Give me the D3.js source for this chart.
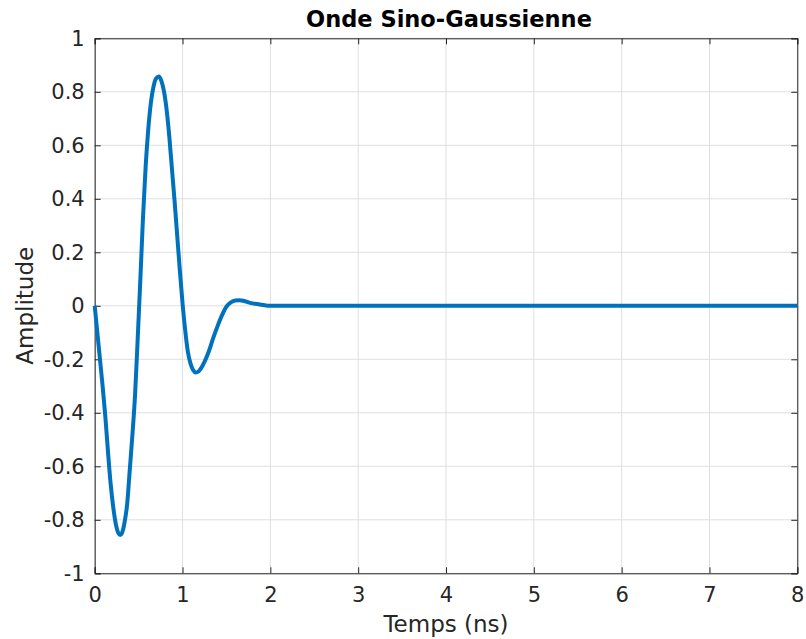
<!DOCTYPE html>
<html>
<head>
<meta charset="utf-8">
<script src="https://cdn.jsdelivr.net/npm/d3@7"></script>
<style>
  html, body { margin: 0; padding: 0; background: #fff; }
  svg { display: block; font-family: "DejaVu Sans", sans-serif; }
</style>
</head>
<body>
<svg id="chart" width="806" height="639"></svg>
<script>
// Time samples (ns) and amplitude of the sine-Gaussian pulse
const timeNs = [
  0, 0.03, 0.06, 0.09, 0.12, 0.15, 0.18, 0.21, 0.24, 0.27, 0.29, 0.31, 0.34, 0.37,
  0.40, 0.43, 0.46, 0.49, 0.52, 0.55, 0.58, 0.61, 0.64, 0.67, 0.70, 0.73, 0.76, 0.79,
  0.82, 0.85, 0.88, 0.91, 0.94, 0.97, 1.00, 1.03, 1.06, 1.09, 1.12, 1.15, 1.18, 1.21,
  1.25, 1.30, 1.35, 1.40, 1.45, 1.50, 1.55, 1.60, 1.65, 1.70, 1.75, 1.80, 1.85, 1.90,
  1.95, 2.00, 3.00, 4.00, 5.00, 6.00, 7.00, 8.00
];
const amplitude = [
  0, -0.10, -0.20, -0.30, -0.41, -0.54, -0.66, -0.75, -0.815, -0.85, -0.857, -0.85, -0.81, -0.74,
  -0.61, -0.48, -0.33, -0.12, 0.10, 0.33, 0.52, 0.66, 0.76, 0.82, 0.85, 0.857, 0.84, 0.80,
  0.73, 0.63, 0.51, 0.39, 0.26, 0.13, 0.01, -0.09, -0.17, -0.215, -0.24, -0.249, -0.246, -0.234,
  -0.21, -0.17, -0.12, -0.075, -0.035, -0.003, 0.013, 0.020, 0.021, 0.018, 0.013, 0.009, 0.007, 0.004,
  0.001, 0, 0, 0, 0, 0, 0, 0
];
const xTicks = [0, 1, 2, 3, 4, 5, 6, 7, 8];
const yTicks = [-1, -0.8, -0.6, -0.4, -0.2, 0, 0.2, 0.4, 0.6, 0.8, 1];
const titleText = "Onde Sino-Gaussienne";
const xLabelText = "Temps (ns)";
const yLabelText = "Amplitude";

const svg = d3.select("#chart");
const plot = { left: 94.7, right: 797.3, top: 38.3, bottom: 573.3 };
const axisColor = "#262626";
const gridColor = "#dfdfdf";
const tickLen = 6;

const x = d3.scaleLinear().domain([0, 8]).range([plot.left, plot.right]);
const y = d3.scaleLinear().domain([-1, 1]).range([plot.bottom, plot.top]);

// grid
const grid = svg.append("g");
grid.selectAll("line.gx").data(xTicks).join("line")
  .attr("x1", d => x(d)).attr("x2", d => x(d))
  .attr("y1", plot.top).attr("y2", plot.bottom)
  .attr("stroke", gridColor).attr("stroke-width", 1);
grid.selectAll("line.gy").data(yTicks).join("line")
  .attr("y1", d => y(d)).attr("y2", d => y(d))
  .attr("x1", plot.left).attr("x2", plot.right)
  .attr("stroke", gridColor).attr("stroke-width", 1);

// axes: bottom/left with labels, top/right ticks only (ticks point inward)
const fmt = d => (d < 0 ? "-" : "") + d3.format("~g")(Math.abs(d));
const xAxis = d3.axisBottom(x).tickValues(xTicks).tickSize(-tickLen).tickPadding(14).tickFormat(fmt);
const yAxis = d3.axisLeft(y).tickValues(yTicks).tickSize(-tickLen).tickPadding(10).tickFormat(fmt);
const xAxisTop = d3.axisTop(x).tickValues(xTicks).tickSize(-tickLen).tickFormat("");
const yAxisRight = d3.axisRight(y).tickValues(yTicks).tickSize(-tickLen).tickFormat("");

function styleAxis(g) {
  g.selectAll("path.domain").attr("stroke", axisColor).attr("stroke-width", 1);
  g.selectAll(".tick line").attr("stroke", axisColor).attr("stroke-width", 1);
  g.selectAll(".tick text").attr("fill", axisColor)
    .style("font-family", "'DejaVu Sans', sans-serif").style("font-size", "21px");
  g.attr("font-family", null).attr("font-size", null);
}

svg.append("g").attr("transform", `translate(0,${plot.bottom})`).call(xAxis).call(styleAxis);
svg.append("g").attr("transform", `translate(${plot.left},0)`).call(yAxis).call(styleAxis);
svg.append("g").attr("transform", `translate(0,${plot.top})`).call(xAxisTop).call(styleAxis);
svg.append("g").attr("transform", `translate(${plot.right},0)`).call(yAxisRight).call(styleAxis);

// signal
const pts = timeNs.map((t, i) => [t, amplitude[i]]);
const line = d3.line().x(d => x(d[0])).y(d => y(d[1])).curve(d3.curveMonotoneX);
svg.append("path").datum(pts)
  .attr("d", line)
  .attr("fill", "none")
  .attr("stroke", "#0072BD")
  .attr("stroke-width", 4)
  .attr("stroke-linejoin", "round");

// title and axis labels
svg.append("text")
  .attr("x", (plot.left + plot.right) / 2 + 3).attr("y", 27)
  .attr("text-anchor", "middle")
  .style("font-weight", "bold").style("font-size", "22.5px").attr("fill", "#000")
  .text(titleText);
svg.append("text")
  .attr("x", (plot.left + plot.right) / 2).attr("y", 632)
  .attr("text-anchor", "middle")
  .style("font-size", "23px").attr("fill", axisColor)
  .text(xLabelText);
svg.append("text")
  .attr("transform", `translate(33,${(plot.top + plot.bottom) / 2}) rotate(-90)`)
  .attr("text-anchor", "middle")
  .style("font-size", "23px").attr("fill", axisColor)
  .text(yLabelText);
</script>
</body>
</html>
